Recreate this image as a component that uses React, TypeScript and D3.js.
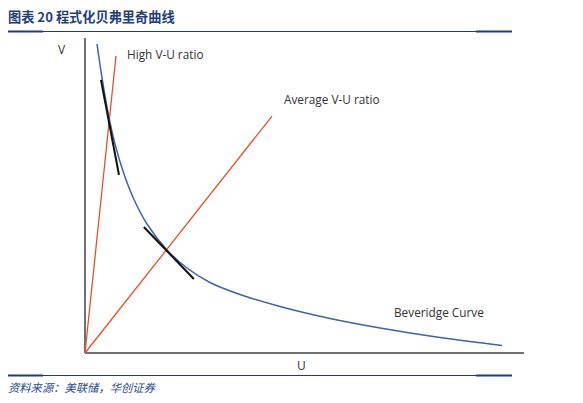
import React from "react";
import * as d3 from "d3";

const W = 583;
const H = 403;

// Beveridge curve (U, V) in arbitrary units 0-100
const curveU = [2.73, 3.87, 5.24, 6.83, 8.88, 11.16, 14.12, 18.68, 23.23, 28.47, 35.31, 44.42, 55.81, 67.2, 80.87, 94.99];
const curveV = [98.1, 87.46, 76.35, 66.35, 56.83, 48.73, 40.95, 32.7, 26.98, 22.38, 18.57, 14.76, 10.95, 7.94, 4.92, 2.38];

// ratio rays from origin: end points
const rayNames = ["High V-U ratio", "Average V-U ratio"];
const rayEndU = [7.06, 42.6];
const rayEndV = [94.3, 75.2];

// tangent segments
const tangentU = [[3.64, 7.74], [13.4, 24.8]];
const tangentV = [[86.7, 56.5], [40.0, 23.5]];

const curveLabel = "Beveridge Curve";
const axisLabels = ["V", "U"];
const title = "图表 20 程式化贝弗里奇曲线";
const source = "资料来源：美联储，华创证券";

export default function App() {
  const x = d3.scaleLinear().domain([0, 100]).range([85, 524]);
  const y = d3.scaleLinear().domain([0, 100]).range([353, 38]);
  const pts: [number, number][] = curveU.map((u, i) => [u, curveV[i]]);
  const line = d3
    .line<[number, number]>()
    .x((d) => x(d[0]))
    .y((d) => y(d[1]))
    .curve(d3.curveCatmullRom.alpha(0.5));
  const seg = d3
    .line<[number, number]>()
    .x((d) => x(d[0]))
    .y((d) => y(d[1]));
  const navy = "#1f3e78";
  const labelFont = "'Open Sans', 'DejaVu Sans', sans-serif";
  return (
    <svg
      width={W}
      height={H}
      style={{ position: "absolute", left: 0, top: 0, display: "block", background: "#fff" }}
    >
      {/* header */}
      <text
        x={8}
        y={22}
        fontFamily="'Noto Sans CJK SC', sans-serif"
        fontWeight={700}
        fontSize={13.2}
        fill={navy}
      >
        {title}
      </text>
      <line x1={8} x2={512} y1={31.5} y2={31.5} stroke={navy} strokeWidth={1} />
      <line x1={8} x2={43} y1={31.5} y2={31.5} stroke={navy} strokeWidth={2} />
      <line x1={476} x2={512} y1={31.5} y2={31.5} stroke={navy} strokeWidth={2} />

      {/* axes */}
      <line x1={x(0)} x2={x(0)} y1={y(0)} y2={y(100)} stroke="#404040" strokeWidth={1.5} />
      <line x1={x(0)} x2={x(100)} y1={y(0)} y2={y(0)} stroke="#404040" strokeWidth={1.5} />
      <text x={58} y={54} fontFamily={labelFont} fontSize={12} fill="#333">
        {axisLabels[0]}
      </text>
      <text x={297} y={370} fontFamily={labelFont} fontSize={12} fill="#333">
        {axisLabels[1]}
      </text>

      {/* rays */}
      {rayEndU.map((u, i) => (
        <path
          key={i}
          d={seg([[0, 0], [u, rayEndV[i]]]) || ""}
          stroke="#e2522a"
          strokeWidth={1.3}
          fill="none"
        />
      ))}
      <text x={127} y={59} fontFamily={labelFont} fontSize={11.8} fill="#333">
        {rayNames[0]}
      </text>
      <text x={284} y={104} fontFamily={labelFont} fontSize={11.8} fill="#333">
        {rayNames[1]}
      </text>

      {/* curve */}
      <path d={line(pts) || ""} stroke="#3d64a8" strokeWidth={1.5} fill="none" />
      <text x={394} y={317} fontFamily={labelFont} fontSize={11.8} fill="#333">
        {curveLabel}
      </text>

      {/* tangents */}
      {tangentU.map((us, i) => (
        <path
          key={i}
          d={seg([[us[0], tangentV[i][0]], [us[1], tangentV[i][1]]]) || ""}
          stroke="#111"
          strokeWidth={2}
          fill="none"
        />
      ))}

      {/* footer */}
      <line x1={8} x2={512} y1={375.5} y2={375.5} stroke={navy} strokeWidth={1} />
      <line x1={8} x2={43} y1={375.5} y2={375.5} stroke={navy} strokeWidth={2} />
      <line x1={476} x2={512} y1={375.5} y2={375.5} stroke={navy} strokeWidth={2} />
      <text
        x={8}
        y={392}
        fontFamily="'Noto Sans CJK SC', sans-serif"
        fontStyle="italic"
        fontSize={11.3}
        fill="#2a4d8f"
      >
        {source}
      </text>
    </svg>
  );
}
